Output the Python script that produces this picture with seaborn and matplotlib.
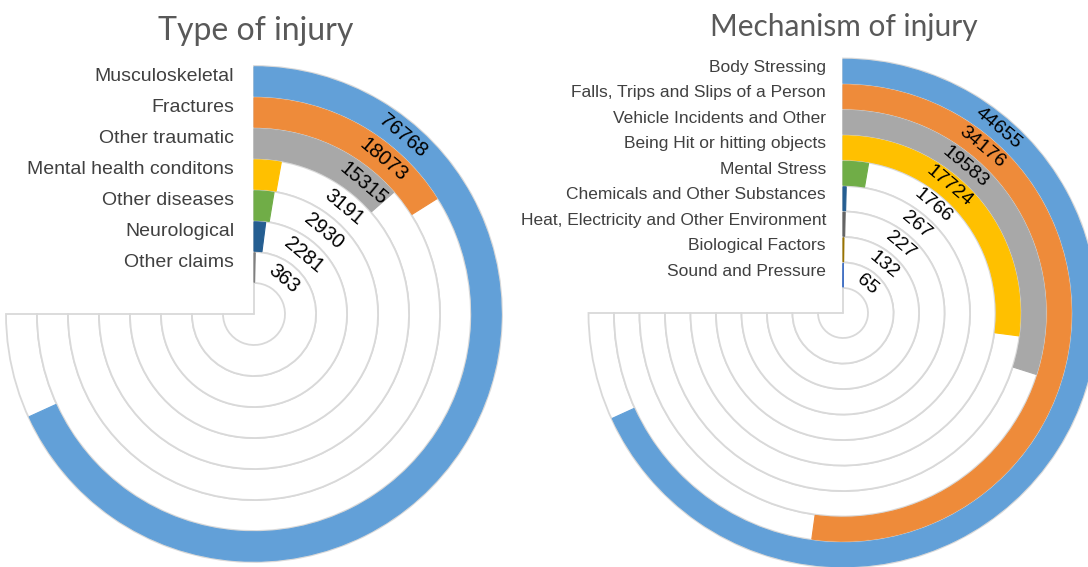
import numpy as np
import matplotlib
matplotlib.use("Agg")
import matplotlib.pyplot as plt
import matplotlib.transforms as mtransforms
import seaborn as sns

# Claims by type of injury
type_labels = ["Musculoskeletal", "Fractures", "Other traumatic",
               "Mental health conditons", "Other diseases", "Neurological",
               "Other claims"]
type_values = [76768, 18073, 15315, 3191, 2930, 2281, 363]
type_colors = ["#62A0D8", "#EE8B3A", "#A8A8A8", "#FFC000", "#70AD47",
               "#255E91", "#7F7F7F"]

# Claims by mechanism of injury
mech_labels = ["Body Stressing", "Falls, Trips and Slips of a Person",
               "Vehicle Incidents and Other", "Being Hit or hitting objects",
               "Mental Stress", "Chemicals and Other Substances",
               "Heat, Electricity and Other Environment",
               "Biological Factors", "Sound and Pressure"]
mech_values = [44655, 34176, 19583, 17724, 1766, 267, 227, 132, 65]
mech_colors = ["#62A0D8", "#EE8B3A", "#A8A8A8", "#FFC000", "#70AD47",
               "#255E91", "#636363", "#997300", "#4472C4"]

sns.set_theme(style="white")
plt.rcParams["font.family"] = ["Liberation Sans", "DejaVu Sans"]

W, H = 1088, 567
fig = plt.figure(figsize=(W / 100, H / 100), dpi=100)
fig.patch.set_facecolor("white")

TRACK_DEG = 270.0   # the ring track covers three quarters of the circle
LABEL_DEG = 40.0    # angle at which value labels sit
GRID = "#D9D9D9"


def radial_bars(cx, cy, hole, ring, labels, values, colors,
                label_dx, label_dy, label_fs, value_fs):
    R = 270.0
    ax = fig.add_axes([(cx - R) / W, (H - cy - R) / H, 2 * R / W, 2 * R / H],
                      projection="polar")
    ax.set_theta_zero_location("N")
    ax.set_theta_direction(-1)
    ax.set_ylim(0, R)
    ax.set_axis_off()

    palette = sns.color_palette(colors)
    n = len(values)
    vmax = max(values)
    name_trans = mtransforms.offset_copy(ax.transData, fig=fig,
                                         x=label_dx, y=label_dy, units="dots")
    # border of the label box running into the centre
    for th in (0.0, np.deg2rad(TRACK_DEG)):
        ax.plot([th, th], [0, hole], color=GRID, linewidth=1.3, zorder=1)
    for i, (lab, val) in enumerate(zip(labels, values)):
        inner = hole + (n - 1 - i) * ring
        mid = inner + ring / 2
        # empty track
        ax.bar(0, ring, width=np.deg2rad(TRACK_DEG), bottom=inner,
               align="edge", color="white", edgecolor=GRID,
               linewidth=1.3, zorder=1)
        # value arc
        ang = np.deg2rad(TRACK_DEG * val / (1.1 * vmax))
        ax.bar(0, ring - 1.6, width=ang, bottom=inner + 0.8, align="edge",
               color=palette[i], edgecolor=palette[i], linewidth=0.8,
               zorder=2)
        ax.text(np.deg2rad(LABEL_DEG), mid, f"{val}", rotation=-LABEL_DEG,
                rotation_mode="anchor", ha="center", va="center",
                fontsize=value_fs, color="black", zorder=3)
        ax.text(0, mid, lab, transform=name_trans, ha="right", va="center",
                fontsize=label_fs, color="#404040")
    return ax


radial_bars(254, 314, 31, 31, type_labels, type_values, type_colors,
            label_dx=-20, label_dy=5, label_fs=14, value_fs=14.5)
radial_bars(843, 313, 25, 25.5, mech_labels, mech_values, mech_colors,
            label_dx=-17, label_dy=4, label_fs=12.5, value_fs=14)

fig.text(256 / W, 1 - 31 / H, "Type of injury", ha="center", va="center",
         fontsize=23, color="#595959", family=["Lato", "DejaVu Sans"])
fig.text(844 / W, 1 - 27 / H, "Mechanism of injury", ha="center",
         va="center", fontsize=21.5, color="#595959",
         family=["Lato", "DejaVu Sans"])

fig.savefig("out.png", dpi=100, facecolor="white")
